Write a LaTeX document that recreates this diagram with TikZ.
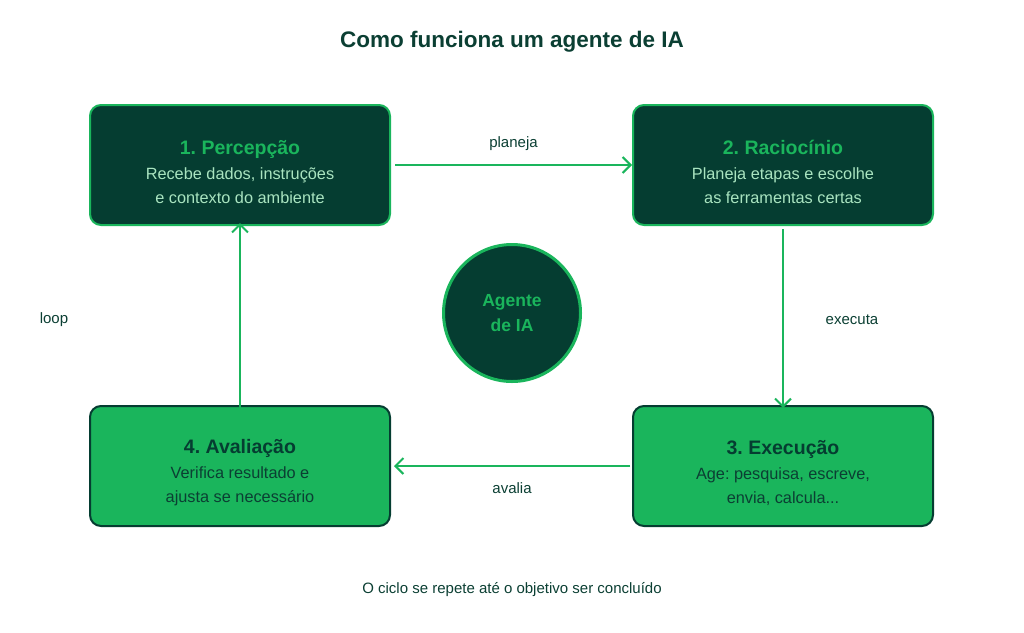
\documentclass[tikz,border=0pt]{standalone}
\usepackage{fontspec}
\setmainfont{Liberation Sans}
\usetikzlibrary{arrows.meta,positioning}

\definecolor{dkgreen}{HTML}{053D31}
\definecolor{brgreen}{HTML}{1AB55C}
\definecolor{ltgreen}{HTML}{A9E4C0}
\definecolor{txtdark}{HTML}{0B3F33}

\tikzset{
  darkbox/.style={draw=brgreen, line width=2pt, fill=dkgreen, rounded corners=11pt,
    minimum width=300pt, minimum height=120pt},
  greenbox/.style={draw=dkgreen, line width=2pt, fill=brgreen, rounded corners=11pt,
    minimum width=300pt, minimum height=120pt},
  darktext/.style={align=center, text=ltgreen, font=\fontsize{16.3}{24}\selectfont},
  greentext/.style={align=center, text=txtdark, font=\fontsize{16.3}{24}\selectfont},
  flow/.style={draw=brgreen, line width=2pt, -{Straight Barb[length=8pt,width=16pt,line width=2pt]}},
  edgelabel/.style={text=txtdark, font=\fontsize{15}{17}\selectfont}
}
\newcommand{\steptitle}[2]{{\bfseries\fontsize{19.5}{22}\selectfont\color{#1}#2}}

\begin{document}
\frenchspacing
\begin{tikzpicture}[x=1pt,y=-1pt]

\useasboundingbox (0,0) rectangle (1024,632);

\node[text=txtdark, font=\bfseries\fontsize{22.5}{26}\selectfont] (title) at (512,42) {Como funciona um agente de IA};

% the four steps
\node[darkbox]  (perc) at (240,165) {};
\node[darkbox]  (rac)  at (783,165) {};
\node[greenbox] (exec) at (783,466) {};
\node[greenbox] (aval) at (240,466) {};

\node[darktext] (perctxt) at (240,172) {\steptitle{brgreen}{1. Percepção}\\[1pt]Recebe dados, instruções\\e contexto do ambiente};
\node[darktext] (ractxt) at (783,172) {\steptitle{brgreen}{2. Raciocínio}\\[1pt]Planeja etapas e escolhe\\as ferramentas certas};
\node[greentext] (exectxt) at (783,473) {\steptitle{dkgreen}{3. Execução}\\[1pt]Age: pesquisa, escreve,\\envia, calcula...};
\node[greentext] (avaltxt) at (240,473) {\steptitle{dkgreen}{4. Avaliação}\\[1pt]Verifica resultado e\\ajusta se necessário};

% centre
\node[circle, draw=brgreen, line width=3pt, fill=dkgreen, minimum size=137pt, align=center,
  text=brgreen, font=\bfseries\fontsize{17.5}{25}\selectfont] (agent) at (512,313) {Agente\\de IA};

% cycle
\draw[flow] (perc.east) ++(4,0) coordinate (a1) -- (rac.west) node[pos=0.5, above=10pt, edgelabel] (l1) {planeja};
\draw[flow] (rac.south) ++(0,3) coordinate (a2) -- ([yshift=-3pt]exec.north);
\node[edgelabel] (l2) at (852,320) {executa};
\draw[flow] ([xshift=-2pt]exec.west) -- ([xshift=3pt]aval.east) node[pos=0.5, below=12pt, edgelabel] (l3) {avalia};
\draw[flow] ([yshift=-3pt]aval.north) -- ([yshift=3pt]perc.south);
\node[edgelabel] (l4) at (54,320) {loop};

\node[text=txtdark, font=\fontsize{15}{17}\selectfont] (foot) at (512,590) {O ciclo se repete até o objetivo ser concluído};

\end{tikzpicture}
\end{document}
